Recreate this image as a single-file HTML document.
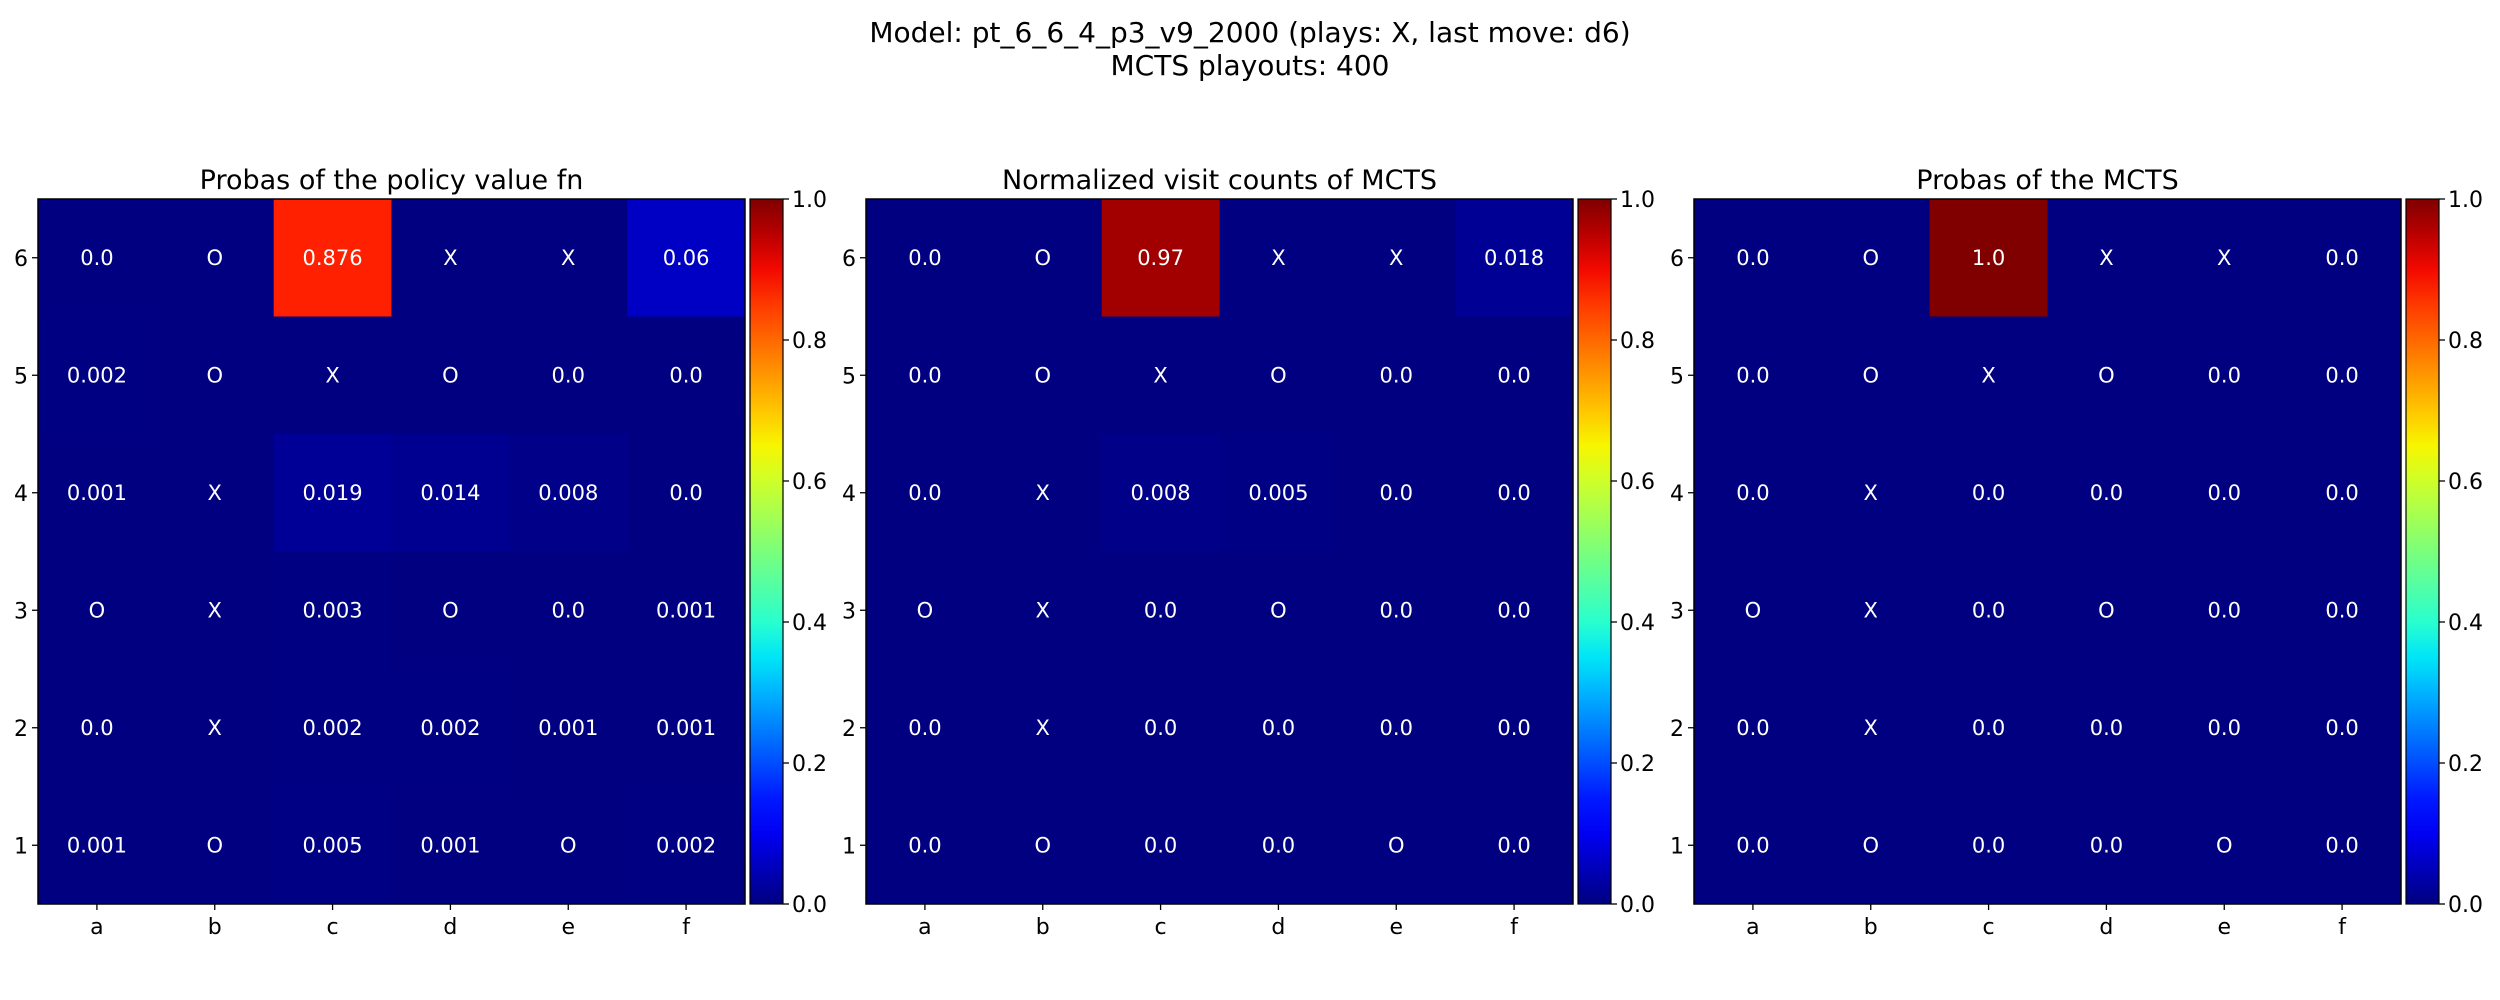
<!DOCTYPE html>
<html><head><meta charset="utf-8">
<style>
html,body{margin:0;padding:0;background:#fff;}
svg{display:block;font-family:"DejaVu Sans","Liberation Sans",sans-serif;}
</style></head>
<body>
<svg id="fig" width="2500" height="1000" viewBox="0 0 2500 1000">
<text x="1250" y="42" font-size="28" text-anchor="middle">Model: pt_6_6_4_p3_v9_2000 (plays: X, last move: d6)</text>
<text x="1250" y="75" font-size="28" text-anchor="middle">MCTS playouts: 400</text>
</svg>
<script>
const cols = ['a','b','c','d','e','f'];
const rows = [6,5,4,3,2,1];
const cbTicks = [0.0,0.2,0.4,0.6,0.8,1.0];
const titles = ['Probas of the policy value fn','Normalized visit counts of MCTS','Probas of the MCTS'];
const policy = [
 ['0.0','O','0.876','X','X','0.06'],
 ['0.002','O','X','O','0.0','0.0'],
 ['0.001','X','0.019','0.014','0.008','0.0'],
 ['O','X','0.003','O','0.0','0.001'],
 ['0.0','X','0.002','0.002','0.001','0.001'],
 ['0.001','O','0.005','0.001','O','0.002']];
const visits = [
 ['0.0','O','0.97','X','X','0.018'],
 ['0.0','O','X','O','0.0','0.0'],
 ['0.0','X','0.008','0.005','0.0','0.0'],
 ['O','X','0.0','O','0.0','0.0'],
 ['0.0','X','0.0','0.0','0.0','0.0'],
 ['0.0','O','0.0','0.0','O','0.0']];
const mcts = [
 ['0.0','O','1.0','X','X','0.0'],
 ['0.0','O','X','O','0.0','0.0'],
 ['0.0','X','0.0','0.0','0.0','0.0'],
 ['O','X','0.0','O','0.0','0.0'],
 ['0.0','X','0.0','0.0','0.0','0.0'],
 ['0.0','O','0.0','0.0','O','0.0']];
const panels=[policy,visits,mcts];
const panelX=[38,866,1694];
const PW=707, PT=199, PH=705, CBW=33, CBGAP=5;
const NS='http://www.w3.org/2000/svg';
const svg=document.getElementById('fig');
function interp(pts,t){for(let i=1;i<pts.length;i++){if(t<=pts[i][0]){const[a,va]=pts[i-1],[b,vb]=pts[i];return va+(vb-va)*(t-a)/(b-a);}}return pts[pts.length-1][1];}
function jet(t){t=Math.max(0,Math.min(1,t));
 const r=interp([[0,0],[0.35,0],[0.66,1],[0.89,1],[1,0.5]],t);
 const g=interp([[0,0],[0.125,0],[0.375,1],[0.64,1],[0.91,0],[1,0]],t);
 const b=interp([[0,0.5],[0.11,1],[0.34,1],[0.65,0],[1,0]],t);
 return `rgb(${Math.round(r*255)},${Math.round(g*255)},${Math.round(b*255)})`;}
function mk(tag,attrs,parent){const e=document.createElementNS(NS,tag);for(const k in attrs)e.setAttribute(k,attrs[k]);(parent||svg).appendChild(e);return e;}
const defs=mk('defs',{});
const grad=mk('linearGradient',{id:'jetg',x1:0,y1:1,x2:0,y2:0},defs);
for(let i=0;i<=20;i++){mk('stop',{offset:i/20,'stop-color':jet(i/20)},grad);}
panels.forEach((data,p)=>{
 const x0=panelX[p];
 const cw=PW/cols.length, ch=PH/rows.length;
 const xs=i=>x0+i*cw, ys=j=>PT+j*ch;
 const g=mk('g',{});
 
 
 const t=mk('text',{x:x0+PW/2,y:PT-10,'font-size':27,'text-anchor':'middle'},g);
 t.textContent=titles[p];
 
 
 data.forEach((row,j)=>row.forEach((v,i)=>{
  const num=parseFloat(v); const val=isNaN(num)?0:num;
  const r=mk('rect',{x:xs(i),y:ys(j),width:cw+0.5,height:ch+0.5,fill:jet(val)},g);
  
  
  const tx=mk('text',{x:xs(i)+cw/2,y:ys(j)+ch/2+7,'font-size':21,'text-anchor':'middle',fill:'#fff'},g);
  tx.textContent=v;
  
  
 }));
 mk('rect',{x:x0,y:PT,width:PW,height:PH,fill:'none',stroke:'#000','stroke-width':1.5},g);
 cols.forEach((c,i)=>{
  const cx=xs(i)+cw/2;
  mk('line',{x1:cx,y1:PT+PH,x2:cx,y2:PT+PH+6,stroke:'#000','stroke-width':1.3},g);
  const tl=mk('text',{x:cx,y:PT+PH+30,'font-size':22,'text-anchor':'middle'},g);
  tl.textContent=c;
  
  
 });
 rows.forEach((r,j)=>{
  const cy=ys(j)+ch/2;
  mk('line',{x1:x0-6,y1:cy,x2:x0,y2:cy,stroke:'#000','stroke-width':1.3},g);
  const tl=mk('text',{x:x0-10,y:cy+8,'font-size':22,'text-anchor':'end'},g);
  tl.textContent=r;
  
  
 });
 const cbx=x0+PW+CBGAP;
 const cb=mk('rect',{x:cbx,y:PT,width:CBW,height:PH,fill:'url(#jetg)',stroke:'#000','stroke-width':1.2},g);
 
 
 cbTicks.forEach(v=>{
  const cy=PT+PH-v*PH;
  mk('line',{x1:cbx+CBW,y1:cy,x2:cbx+CBW+6,y2:cy,stroke:'#000','stroke-width':1.3},g);
  const tl=mk('text',{x:cbx+CBW+9,y:cy+8,'font-size':22},g);
  tl.textContent=v.toFixed(1);
  
  
 });
});
</script>
</body></html>
